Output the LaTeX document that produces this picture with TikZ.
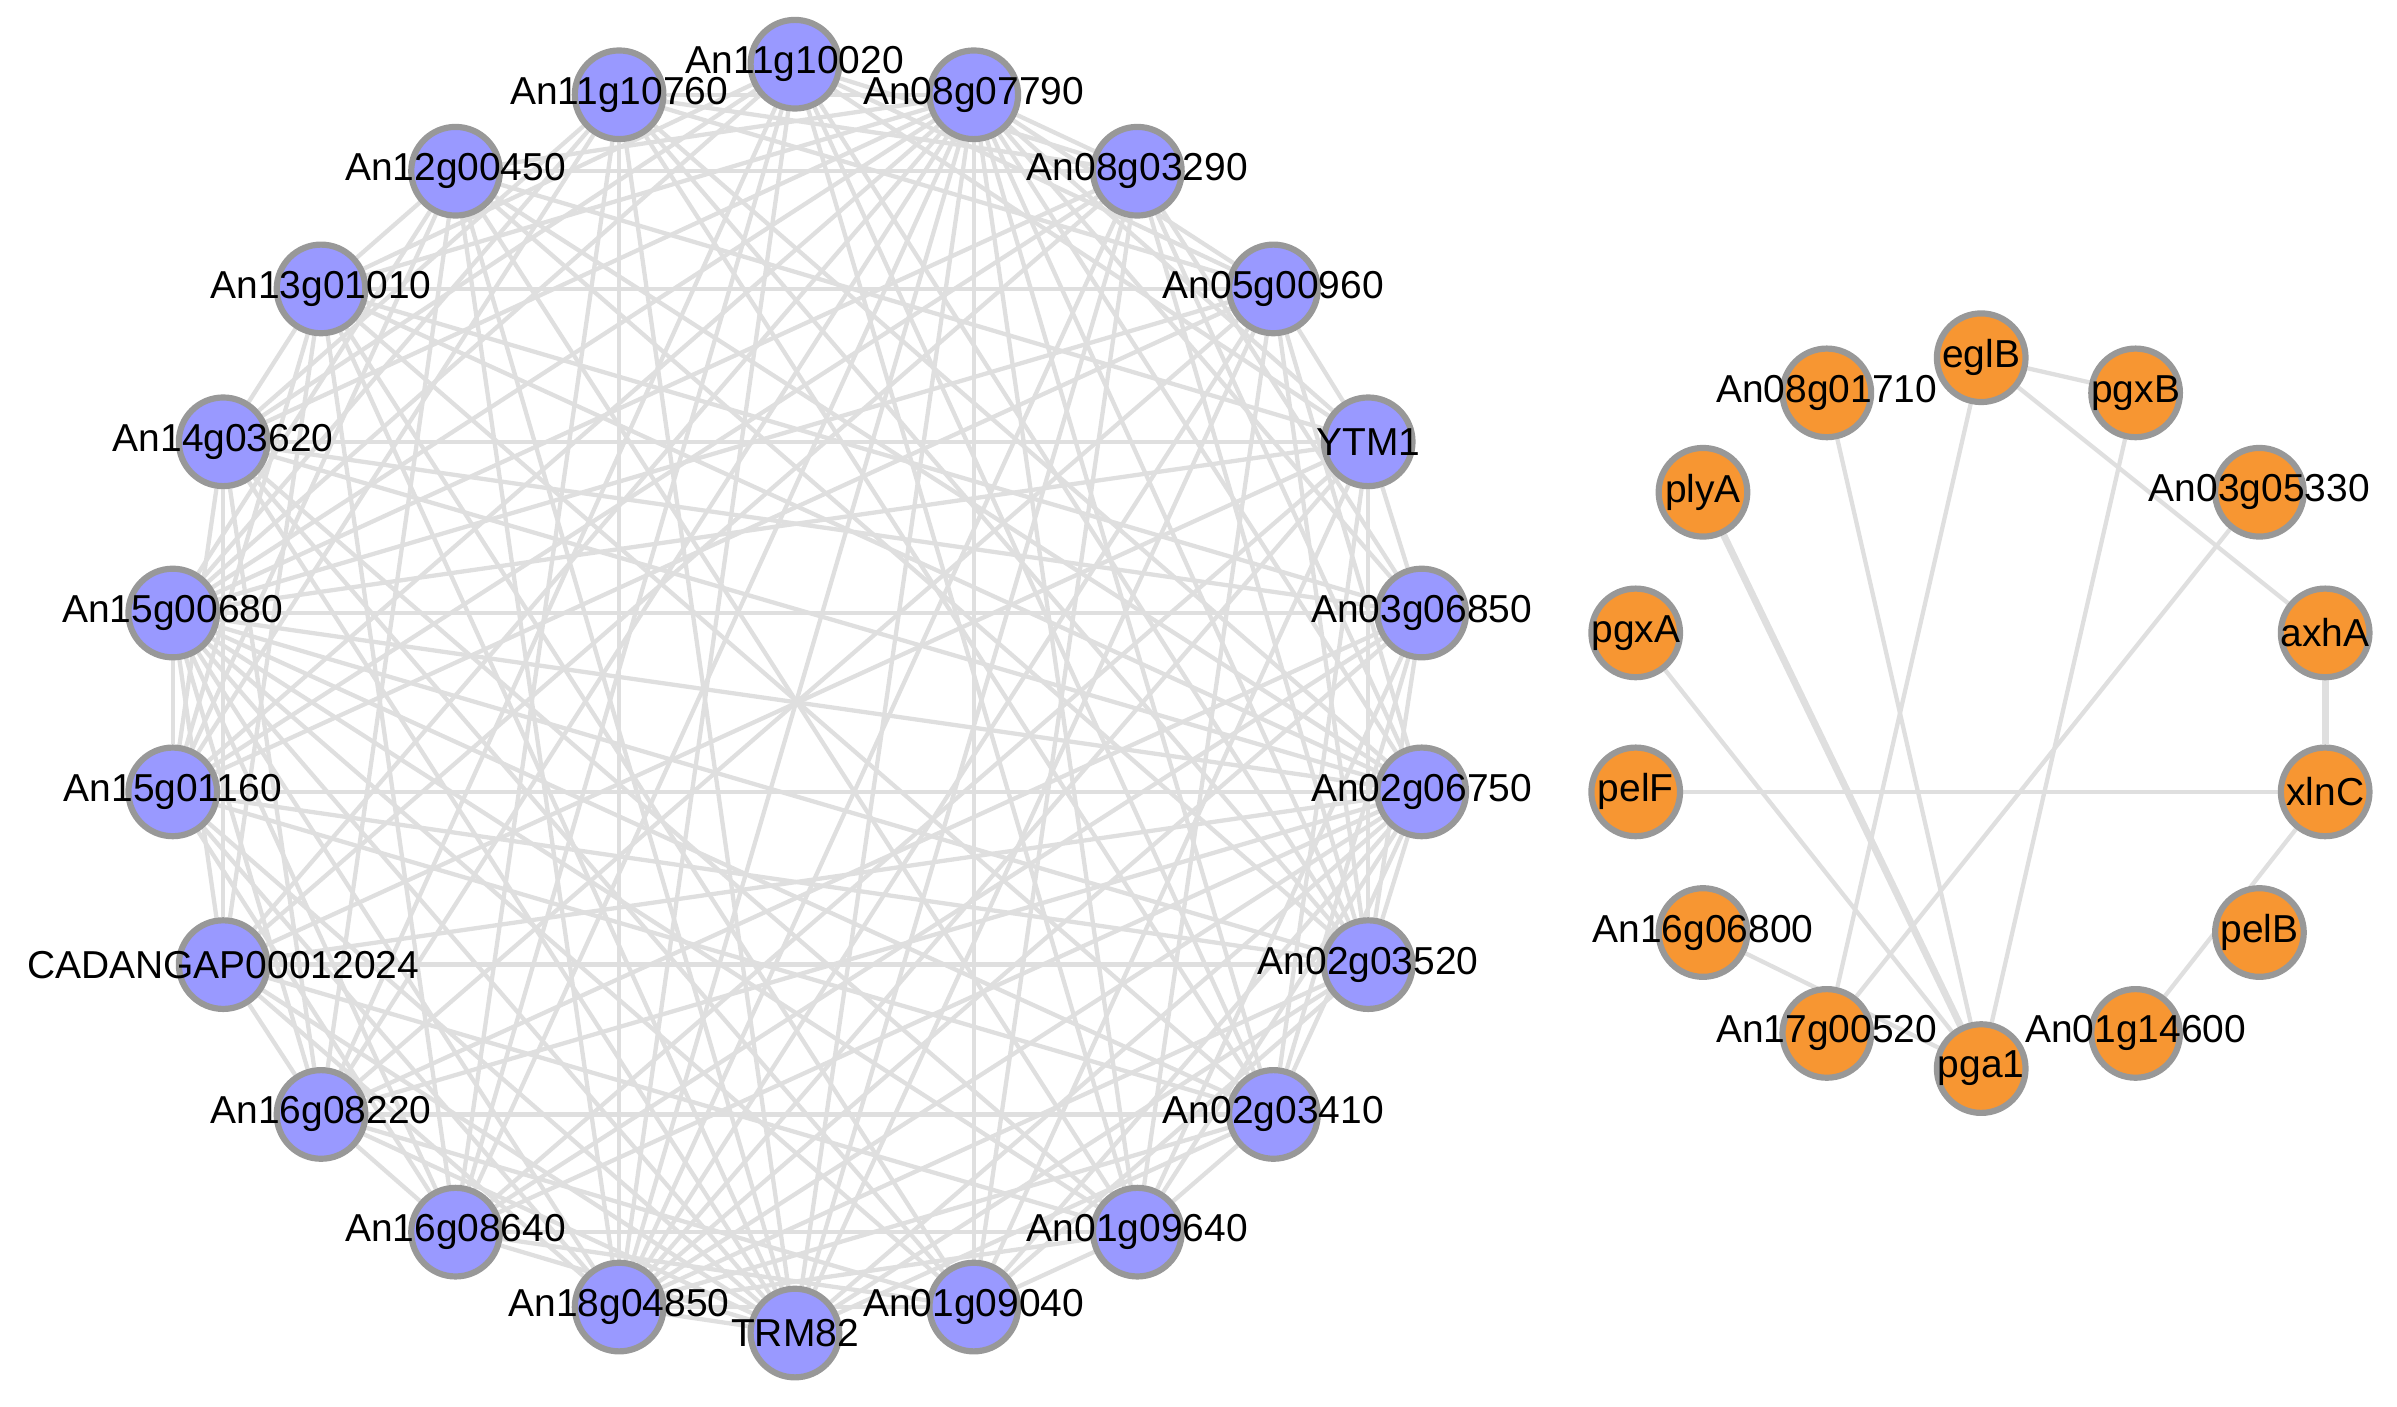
\documentclass[tikz,border=0pt]{standalone}
\usepackage{fontspec}
\setmainfont{Liberation Sans}
\usetikzlibrary{backgrounds}
\begin{document}
\begin{tikzpicture}[x=0.02cm,y=-0.02cm,
  gn/.style={circle,draw=gray!85!black!70,line width=2.3pt,minimum size=1.16cm,inner sep=0pt,font=\fontsize{14.5}{16}\selectfont},
  bl/.style={gn,fill=blue!40!white!80!blue!60},
  og/.style={gn,fill=orange!80!yellow!85!black!100},
  ed/.style={draw=gray!25,line width=1.6pt},
  edt/.style={draw=gray!18,line width=1pt}]
\useasboundingbox (0,0) rectangle (1568,920);
\colorlet{bfill}{blue!40}
\definecolor{bfill}{RGB}{153,153,255}
\definecolor{ofill}{RGB}{247,150,50}
\tikzset{bl/.style={gn,fill=bfill},og/.style={gn,fill=ofill}}
\foreach \n/\x/\y/\t in {1/520/42/An11g10020,2/637/62/An08g07790,3/744/112/An08g03290,4/833/189/An05g00960,5/895/289/YTM1,6/930/401/An03g06850,7/930/518/An02g06750,8/895/631/An02g03520,9/833/729/An02g03410,10/744/806/An01g09640,11/637/855/An01g09040,12/520/872/TRM82,13/405/855/An18g04850,14/298/806/An16g08640,15/210/729/An16g08220,16/146/631/CADANGAP00012024,17/113/518/An15g01160,18/113/401/An15g00680,19/146/289/An14g03620,20/210/189/An13g01010,21/298/112/An12g00450,22/405/62/An11g10760}
  {\node[bl] (l\n) at (\x,\y) {}; \node[font=\fontsize{14.5}{16}\selectfont] at (\x,\y) {\t};}
\foreach \n/\x/\y/\t in {1/1296/234/eglB,2/1397/257/pgxB,3/1478/322/An03g05330,4/1521/414/axhA,5/1521/518/xlnC,6/1478/610/pelB,7/1397/676/An01g14600,8/1296/699/pga1,9/1195/676/An17g00520,10/1114/610/An16g06800,11/1070/518/pelF,12/1070/414/pgxA,13/1114/322/plyA,14/1195/257/An08g01710}
  {\node[og] (r\n) at (\x,\y) {}; \node[font=\fontsize{14.5}{16}\selectfont] at (\x,\y) {\t};}
\begin{scope}[on background layer]
\foreach \i in {1,...,21}{
  \pgfmathtruncatemacro\s{\i+1}
  \foreach \j in {\s,...,22}{
    \pgfmathtruncatemacro\k{mod(\i*7+\j*3+\i*\j,5)}
    \ifnum\k>1 \draw[ed] (l\i) -- (l\j);\fi
  }}
\foreach \a/\b in {1/2,1/9,1/4,14/8,2/8,13/8,12/8,3/9,4/5,5/7,11/5,10/8}
  \draw[ed] (r\a) -- (r\b);
\draw[line width=2.6pt,draw=gray!25] (r13) -- (r8);
\draw[line width=2.6pt,draw=gray!25] (r4) -- (r5);
\end{scope}
\end{tikzpicture}
\end{document}
